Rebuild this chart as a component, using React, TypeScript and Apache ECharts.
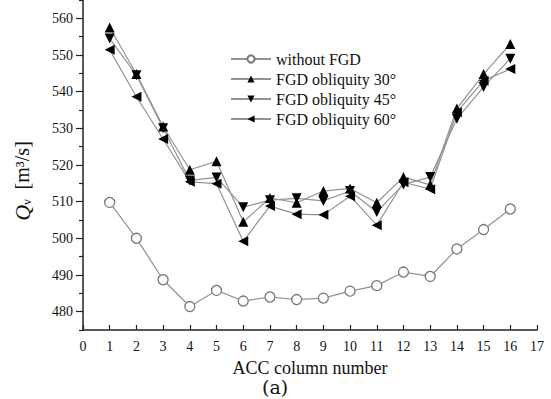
import React, { useEffect, useRef } from "react";
import * as echarts from "echarts";

const columns = [1, 2, 3, 4, 5, 6, 7, 8, 9, 10, 11, 12, 13, 14, 15, 16];
const withoutFGD = [509.8, 500.0, 488.7, 481.4, 485.8, 482.9, 484.0, 483.3, 483.7, 485.6, 487.1, 490.8, 489.6, 497.1, 502.4, 508.0];
const fgd30 = [557.5, 544.8, 530.5, 518.7, 521.0, 504.5, 511.0, 509.7, 512.9, 513.6, 509.7, 516.7, 514.6, 535.4, 544.8, 553.0];
const fgd45 = [554.5, 544.5, 530.0, 515.8, 516.6, 508.5, 510.4, 510.9, 510.2, 512.9, 507.2, 514.7, 516.7, 532.6, 541.3, 549.0];
const fgd60 = [551.4, 538.6, 527.1, 515.4, 514.9, 499.2, 508.8, 506.6, 506.4, 511.5, 503.6, 515.3, 513.4, 534.4, 543.0, 546.2];
const seriesNames = ["without FGD", "FGD obliquity 30°", "FGD obliquity 45°", "FGD obliquity 60°"];
const yMajorTicks = [480, 490, 500, 510, 520, 530, 540, 550, 560];
const yMinorTicks = [475, 485, 495, 505, 515, 525, 535, 545, 555, 565];

const FONT = "'Liberation Serif', 'Times New Roman', serif";

export default function App() {
  const ref = useRef<HTMLDivElement>(null);
  useEffect(() => {
    if (!ref.current) return;
    const chart = echarts.init(ref.current, undefined, { renderer: "svg" });
    const pair = (vals: number[]) => columns.map((c, i) => [c, vals[i]]);
    const lineStyle = { color: "#939393", width: 1.2 };
    const markerStyle = { color: "#000", borderColor: "#000", borderWidth: 0 };
    chart.setOption({
      animation: false,
      backgroundColor: "#fff",
      textStyle: { fontFamily: FONT, color: "#111" },
      grid: { left: 83, right: 14, top: -2.5, bottom: 69, containLabel: false },
      legend: {
        left: 230,
        top: 51,
        padding: 0,
        orient: "vertical",
        itemWidth: 40,
        itemHeight: 9,
        itemGap: 4,
        data: seriesNames,
        textStyle: { fontFamily: FONT, fontSize: 16, lineHeight: 16, color: "#111" },
      },
      xAxis: {
        type: "value",
        min: 0,
        max: 17,
        interval: 1,
        name: "ACC column number",
        nameLocation: "middle",
        nameGap: 29,
        nameTextStyle: { fontFamily: FONT, fontSize: 18, color: "#111" },
        axisLine: { show: true, onZero: false, lineStyle: { color: "#222", width: 1.5 } },
        axisTick: { show: true, inside: true, length: 5, lineStyle: { color: "#222", width: 1.2 } },
        axisLabel: { fontFamily: FONT, fontSize: 14, color: "#111", margin: 9 },
        splitLine: { show: false },
      },
      yAxis: [
        {
          type: "value",
          min: 475,
          max: 565,
          axisLine: { show: true, onZero: false, lineStyle: { color: "#222", width: 1.5 } },
          axisTick: { show: true, length: 7, customValues: yMajorTicks, lineStyle: { color: "#222", width: 1.2 } },
          axisLabel: { fontFamily: FONT, fontSize: 14, color: "#111", margin: 10, customValues: yMajorTicks },
          splitLine: { show: false },
        },
        {
          type: "value",
          min: 475,
          max: 565,
          position: "left",
          offset: 0,
          axisLine: { show: false },
          axisTick: { show: true, length: 4, customValues: yMinorTicks, lineStyle: { color: "#222", width: 1.2 } },
          axisLabel: { show: false },
          splitLine: { show: false },
        },
      ],
      series: [
        {
          name: seriesNames[0],
          type: "line",
          data: pair(withoutFGD),
          symbol: "circle",
          symbolSize: 10,
          lineStyle,
          itemStyle: { color: "#fff", borderColor: "#777", borderWidth: 1.3 },
          z: 2,
        },
        {
          name: seriesNames[1],
          type: "line",
          data: pair(fgd30),
          symbol: "triangle",
          symbolSize: 10,
          lineStyle,
          itemStyle: markerStyle,
        },
        {
          name: seriesNames[2],
          type: "line",
          data: pair(fgd45),
          symbol: "triangle",
          symbolRotate: 180,
          symbolSize: 10,
          lineStyle,
          itemStyle: markerStyle,
        },
        {
          name: seriesNames[3],
          type: "line",
          data: pair(fgd60),
          symbol: "triangle",
          symbolRotate: 90,
          symbolSize: 10,
          lineStyle,
          itemStyle: markerStyle,
        },
      ],
      graphic: [
        {
          type: "text",
          x: 22,
          y: 181,
          rotation: Math.PI / 2,
          style: {
            text: "{q|Q}{v|v}  {u|[m³/s]}",
            align: "center",
            verticalAlign: "middle",
            font: `19px ${FONT}`,
            fill: "#111",
            rich: {
              q: { font: `italic 22px ${FONT}`, fill: "#111" },
              v: { font: `12px ${FONT}`, fill: "#111", verticalAlign: "bottom", padding: [10, 0, 0, 0] },
              u: { font: `20px ${FONT}`, fill: "#111" },
            },
          },
        },
        {
          type: "text",
          x: 262,
          y: 387,
          style: { text: "(a)", font: `19px 'DejaVu Serif', serif`, fill: "#111", verticalAlign: "middle" },
        },
      ],
    });
    return () => chart.dispose();
  }, []);
  return <div ref={ref} style={{ width: 551, height: 399, position: "absolute", left: 0, top: 0 }} />;
}
